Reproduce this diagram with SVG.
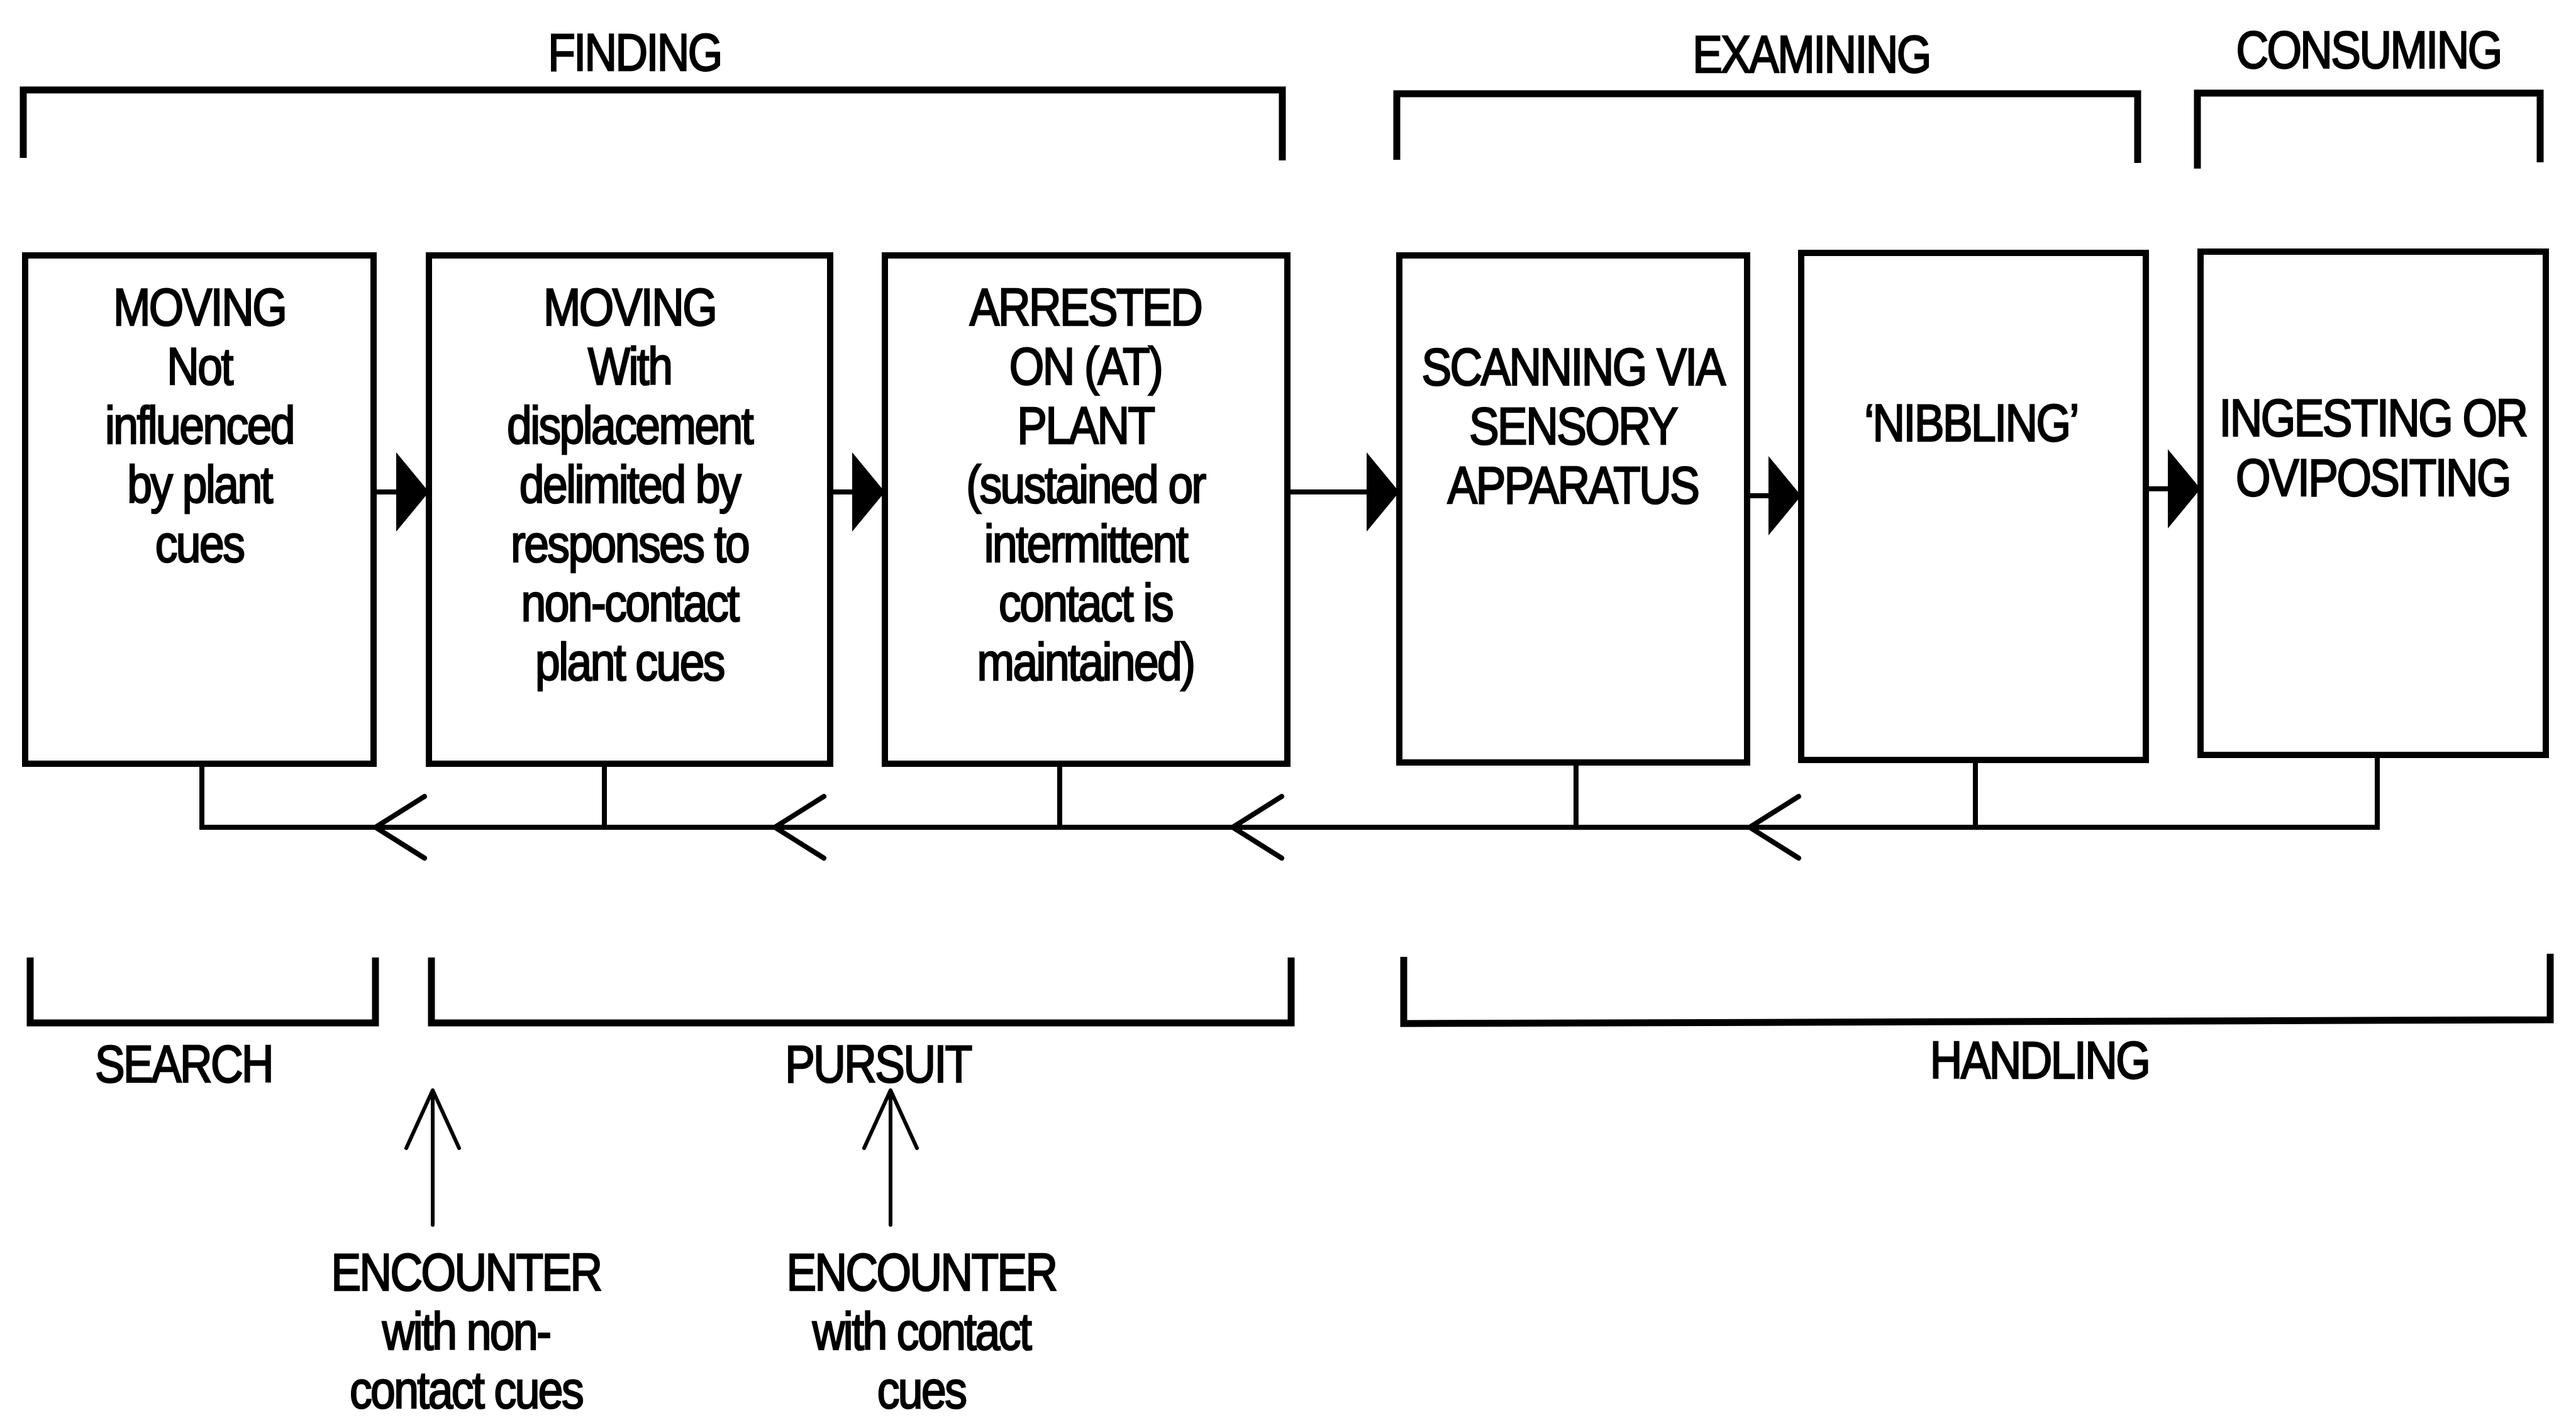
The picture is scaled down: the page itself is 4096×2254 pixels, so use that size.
<svg xmlns="http://www.w3.org/2000/svg" width="4096" height="2254" viewBox="0 0 4096 2254">
<style>
.t{font-family:"Liberation Sans",Arial,sans-serif;font-size:84px;letter-spacing:-3px;text-anchor:middle;fill:#000;stroke:#000;stroke-width:2.5px}
.box{fill:#fff;stroke:#000;stroke-width:10}
.br{fill:none;stroke:#000;stroke-width:11;stroke-linejoin:miter}
.ln{fill:none;stroke:#000;stroke-width:8}
.thin{fill:none;stroke:#000;stroke-width:6;stroke-linecap:round;stroke-linejoin:round}
.chev{fill:none;stroke:#000;stroke-width:8;stroke-linecap:round;stroke-linejoin:miter}
</style>
<defs>
<marker id="head" markerUnits="userSpaceOnUse" markerWidth="54" markerHeight="128" refX="52" refY="63" orient="auto" viewBox="0 0 54 128">
<path d="M0,0 L52,63 L0,126 Z" fill="#000"/>
</marker>
</defs>
<rect width="4096" height="2254" fill="#fff"/>

<g id="phase-brackets">
<path class="br" d="M37,251 L37,143 L2039,143 L2039,255"/>
<text class="t" transform="translate(1009 0) scale(0.85 1)" x="0" y="112">FINDING</text>
<path class="br" d="M2221,254 L2221,149 L3399,149 L3399,259"/>
<text class="t" transform="translate(2880 0) scale(0.85 1)" x="0" y="115">EXAMINING</text>
<path class="br" d="M3494,268 L3494,148 L4039,148 L4039,258"/>
<text class="t" transform="translate(3766 0) scale(0.85 1)" x="0" y="108">CONSUMING</text>
</g>

<g id="node-moving-not-influenced">
<rect class="box" x="40" y="406" width="554" height="808"/>
<text class="t" transform="translate(317 0) scale(0.85 1)" x="0" y="517">MOVING<tspan x="0" dy="94">Not</tspan><tspan x="0" dy="94">influenced</tspan><tspan x="0" dy="94">by plant</tspan><tspan x="0" dy="94">cues</tspan></text>
</g>
<g id="node-moving-with-displacement">
<rect class="box" x="682" y="406" width="638" height="808"/>
<text class="t" transform="translate(1001 0) scale(0.85 1)" x="0" y="517">MOVING<tspan x="0" dy="94">With</tspan><tspan x="0" dy="94">displacement</tspan><tspan x="0" dy="94">delimited by</tspan><tspan x="0" dy="94">responses to</tspan><tspan x="0" dy="94">non-contact</tspan><tspan x="0" dy="94">plant cues</tspan></text>
</g>
<g id="node-arrested">
<rect class="box" x="1407" y="406" width="640" height="808"/>
<text class="t" transform="translate(1726 0) scale(0.85 1)" x="0" y="517">ARRESTED<tspan x="0" dy="94">ON (AT)</tspan><tspan x="0" dy="94">PLANT</tspan><tspan x="0" dy="94">(sustained or</tspan><tspan x="0" dy="94">intermittent</tspan><tspan x="0" dy="94">contact is</tspan><tspan x="0" dy="94">maintained)</tspan></text>
</g>
<g id="node-scanning">
<rect class="box" x="2225" y="406" width="553" height="806"/>
<text class="t" transform="translate(2501 0) scale(0.85 1)" x="0" y="612">SCANNING VIA<tspan x="0" dy="94">SENSORY</tspan><tspan x="0" dy="94">APPARATUS</tspan></text>
</g>
<g id="node-nibbling">
<rect class="box" x="2864" y="402" width="548" height="806"/>
<text class="t" transform="translate(3134 0) scale(0.85 1)" x="0" y="701">‘NIBBLING’</text>
</g>
<g id="node-ingesting">
<rect class="box" x="3499" y="400" width="549" height="800"/>
<text class="t" transform="translate(3773 0) scale(0.85 1)" x="0" y="693">INGESTING OR<tspan x="0" dy="95">OVIPOSITING</tspan></text>
</g>

<g id="connectors">
<line class="ln" x1="594" y1="782" x2="682" y2="782" marker-end="url(#head)"/>
<line class="ln" x1="1320" y1="782" x2="1407" y2="782" marker-end="url(#head)"/>
<line class="ln" x1="2047" y1="782" x2="2225" y2="782" marker-end="url(#head)"/>
<line class="ln" x1="2778" y1="788" x2="2864" y2="788" marker-end="url(#head)"/>
<line class="ln" x1="3412" y1="777" x2="3499" y2="777" marker-end="url(#head)"/>

<path class="ln" d="M321,1214 L321,1315 L3780,1315 L3780,1200"/>
<line class="ln" x1="961" y1="1214" x2="961" y2="1315"/>
<line class="ln" x1="1685" y1="1214" x2="1685" y2="1315"/>
<line class="ln" x1="2506" y1="1212" x2="2506" y2="1315"/>
<line class="ln" x1="3141" y1="1208" x2="3141" y2="1315"/>
<path class="chev" d="M675,1266 L597,1315 L675,1364"/>
<path class="chev" d="M1310,1266 L1232,1315 L1310,1364"/>
<path class="chev" d="M2038,1266 L1960,1315 L2038,1364"/>
<path class="chev" d="M2860,1266 L2782,1315 L2860,1364"/>

<line class="thin" x1="688" y1="1947" x2="688" y2="1736"/>
<path class="thin" d="M646,1825 L688,1733 L730,1825"/>
<line class="thin" x1="1416" y1="1947" x2="1416" y2="1736"/>
<path class="thin" d="M1374,1825 L1416,1733 L1458,1825"/>
</g>

<g id="stage-brackets">
<path class="br" d="M48,1522 L48,1626 L597,1626 L597,1522"/>
<text class="t" transform="translate(292 0) scale(0.85 1)" x="0" y="1720">SEARCH</text>
<path class="br" d="M686,1522 L686,1626 L2053,1626 L2053,1522"/>
<text class="t" transform="translate(1396 0) scale(0.85 1)" x="0" y="1720">PURSUIT</text>
<path class="br" d="M2232,1521 L2232,1627 L4055,1621 L4055,1516"/>
<text class="t" transform="translate(3243 0) scale(0.85 1)" x="0" y="1714">HANDLING</text>
</g>

<g id="node-encounter-noncontact">
<text class="t" transform="translate(741 0) scale(0.85 1)" x="0" y="2051">ENCOUNTER<tspan x="0" dy="94">with non-</tspan><tspan x="0" dy="93">contact cues</tspan></text>
</g>
<g id="node-encounter-contact">
<text class="t" transform="translate(1465 0) scale(0.85 1)" x="0" y="2051">ENCOUNTER<tspan x="0" dy="94">with contact</tspan><tspan x="0" dy="93">cues</tspan></text>
</g>
</svg>
